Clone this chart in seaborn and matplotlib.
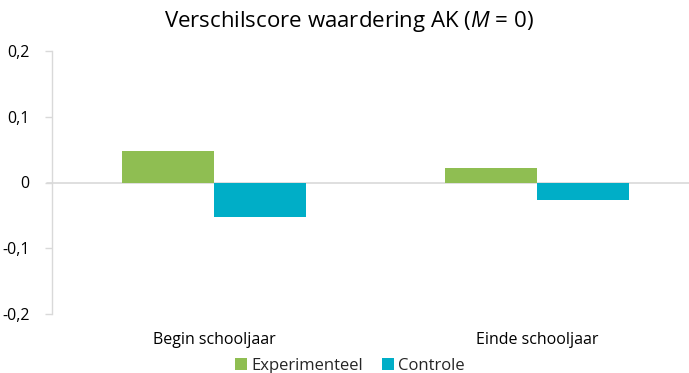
import matplotlib
matplotlib.use("Agg")
import matplotlib.pyplot as plt
import seaborn as sns
import pandas as pd

# Difference scores per measurement moment and group
moments = ["Begin schooljaar", "Einde schooljaar"]
experimenteel = [0.048, 0.022]
controle = [-0.052, -0.027]
groups = ["Experimenteel", "Controle"]
y_ticks = [-0.2, -0.1, 0.0, 0.1, 0.2]
y_tick_labels = ["-0,2", "-0,1", "0", "0,1", "0,2"]
colors = ["#8FBE52", "#00AEC7"]

df = pd.DataFrame({
    "moment": moments * 2,
    "groep": [groups[0]] * 2 + [groups[1]] * 2,
    "score": experimenteel + controle,
})

sns.set_theme(style="white")
font = "Open Sans"
plt.rcParams["font.family"] = [font, "DejaVu Sans"]
plt.rcParams["mathtext.fontset"] = "custom"
plt.rcParams["mathtext.rm"] = font
plt.rcParams["mathtext.it"] = font + ":italic"

fig = plt.figure(figsize=(6.89, 3.73), dpi=100)
ax = fig.add_axes([52 / 689, 59 / 373, 637 / 689, 263 / 373])

sns.barplot(data=df, x="moment", y="score", hue="groep", hue_order=groups,
            palette=colors, width=0.57, saturation=1, ax=ax, legend=True)
for p in ax.patches:
    p.set_edgecolor("none")

ax.set_ylim(-0.2, 0.2)
ax.set_xlim(-0.5015, 1.47)
ax.set_yticks(y_ticks)
ax.set_yticklabels(y_tick_labels, fontsize=11.5, color="#000000")
ax.tick_params(axis="y", which="both", left=True, length=5, width=1,
               color="#D9D9D9", pad=11)
ax.tick_params(axis="x", bottom=False, labelsize=11.5, pad=7)
for lbl in ax.get_xticklabels():
    lbl.set_color("#000000")
ax.set_xlabel("")
ax.set_ylabel("")

for side in ["top", "right", "bottom"]:
    ax.spines[side].set_visible(False)
ax.spines["left"].set_color("#D9D9D9")
ax.spines["left"].set_linewidth(1)

# Zero baseline across the full plot width, extended left like a tick
ax.axhline(0, xmin=-5 / 637, xmax=1, color="#D9D9D9", lw=1.2,
           clip_on=False, zorder=0)

fig.text(349 / 689, 1 - 22 / 373,
         r"Verschilscore waardering AK ($\mathit{M}$ = 0)",
         fontsize=16, ha="center", va="center", color="#000000")

handles, labels = ax.get_legend_handles_labels()
ax.get_legend().remove()
fig.legend(handles, labels, loc="center", bbox_to_anchor=(350 / 689, 1 - 366 / 373),
           ncol=2, frameon=False, fontsize=12, handlelength=0.75,
           handleheight=0.75, handletextpad=0.25, columnspacing=1.1,
           borderpad=0)

fig.savefig("out.png", dpi=100)
